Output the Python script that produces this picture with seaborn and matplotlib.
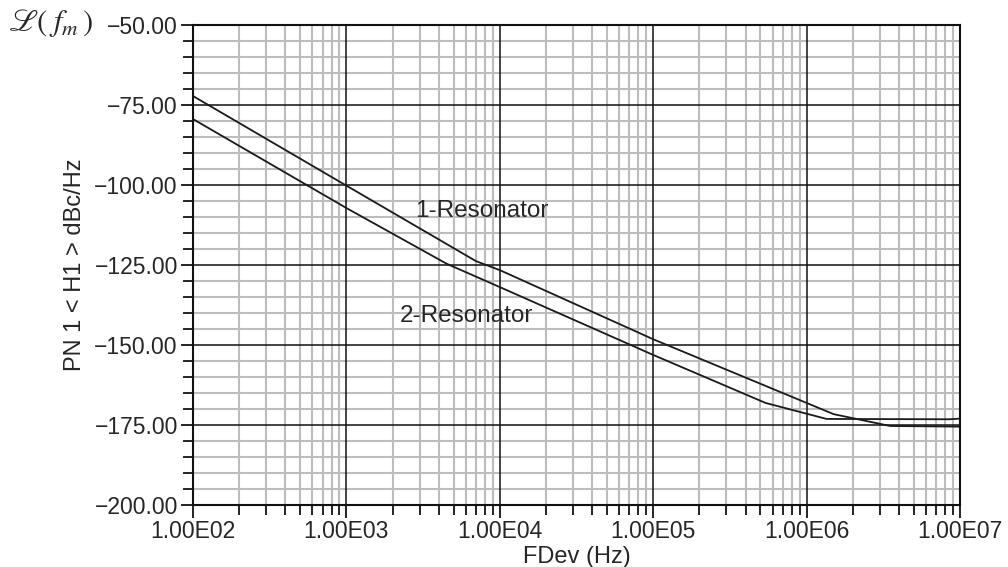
import numpy as np
import pandas as pd
import seaborn as sns
import matplotlib
matplotlib.use("Agg")
from matplotlib import pyplot as plt
from matplotlib.ticker import LogLocator, MultipleLocator, NullFormatter

# 1-Resonator phase noise
f_one = [1e2, 1e3, 7e3, 1e4, 1e5, 1e6, 1.5e6, 3.5e6, 1e7]
pn_one = [-72.2, -100.2, -123.8, -126.6, -148.2, -168.1, -171.6, -175.3, -175.5]

# 2-Resonator phase noise
f_two = [1e2, 1e3, 4.5e3, 1e4, 1e5, 5.4e5, 1.35e6, 8.5e6, 1e7]
pn_two = [-79.4, -107.2, -124.6, -131.9, -153.1, -168.1, -173.1, -173.2, -173.0]

x_ticks = [1e2, 1e3, 1e4, 1e5, 1e6, 1e7]
x_labels = ["1.00E02", "1.00E03", "1.00E04", "1.00E05", "1.00E06", "1.00E07"]
y_ticks = [-200, -175, -150, -125, -100, -75, -50]
y_labels = ["\u2212%.2f" % abs(v) for v in y_ticks]

df = pd.concat([
    pd.DataFrame({"f": f_one, "pn": pn_one, "series": "1-Resonator"}),
    pd.DataFrame({"f": f_two, "pn": pn_two, "series": "2-Resonator"}),
])

sns.set_style("ticks")
plt.rcParams["font.family"] = ["Liberation Sans", "DejaVu Sans"]

fig = plt.figure(figsize=(10.08, 5.67), dpi=100)
ax = fig.add_axes([0.1915, 0.1093, 0.9524 - 0.1915, 0.9559 - 0.1093])

sns.lineplot(data=df, x="f", y="pn", hue="series", palette=["#1a1a1a", "#1a1a1a"],
             linewidth=1.3, legend=False, ax=ax, zorder=5)

ax.set_xscale("log")
ax.set_xlim(1e2, 1e7)
ax.set_ylim(-200, -50)

ax.set_xticks(x_ticks)
ax.set_xticklabels(x_labels)
ax.xaxis.set_minor_locator(LogLocator(base=10, subs=np.arange(2, 10)))
ax.xaxis.set_minor_formatter(NullFormatter())
ax.set_yticks(y_ticks)
ax.set_yticklabels(y_labels)
ax.yaxis.set_minor_locator(MultipleLocator(5))

# light minor grid underneath, black major grid on top of it
ax.grid(which="minor", color="#bdbdbd", linewidth=1.5)
ax.set_axisbelow(True)
for xv in x_ticks:
    ax.axvline(xv, color="#111111", linewidth=1.1, zorder=1)
for yv in y_ticks:
    ax.axhline(yv, color="#111111", linewidth=1.1, zorder=1)

for s in ax.spines.values():
    s.set_color("#111111")
    s.set_linewidth(1.5)
    s.set_zorder(6)

ax.tick_params(which="major", direction="out", length=9, width=1.3, labelsize=16.5,
               color="#111111", pad=2)
ax.tick_params(which="minor", direction="out", length=7, width=1.3, color="#111111")

ax.set_xlabel("FDev (Hz)", fontsize=17, labelpad=2)
ax.set_ylabel("PN 1 < H1 > dBc/Hz", fontsize=17, labelpad=6)

ax.text(2.8e3, -108.1, "1-Resonator", fontsize=17.5, va="center", ha="left", zorder=6)
ax.text(2.24e3, -140.9, "2-Resonator", fontsize=17.5, va="center", ha="left", zorder=6)

fig.text(0.008, 0.96, r"$\mathscr{L}(\;f_m\,)$", fontsize=22, va="center", ha="left",
         math_fontfamily="stix")

fig.savefig("out.png", dpi=100)
